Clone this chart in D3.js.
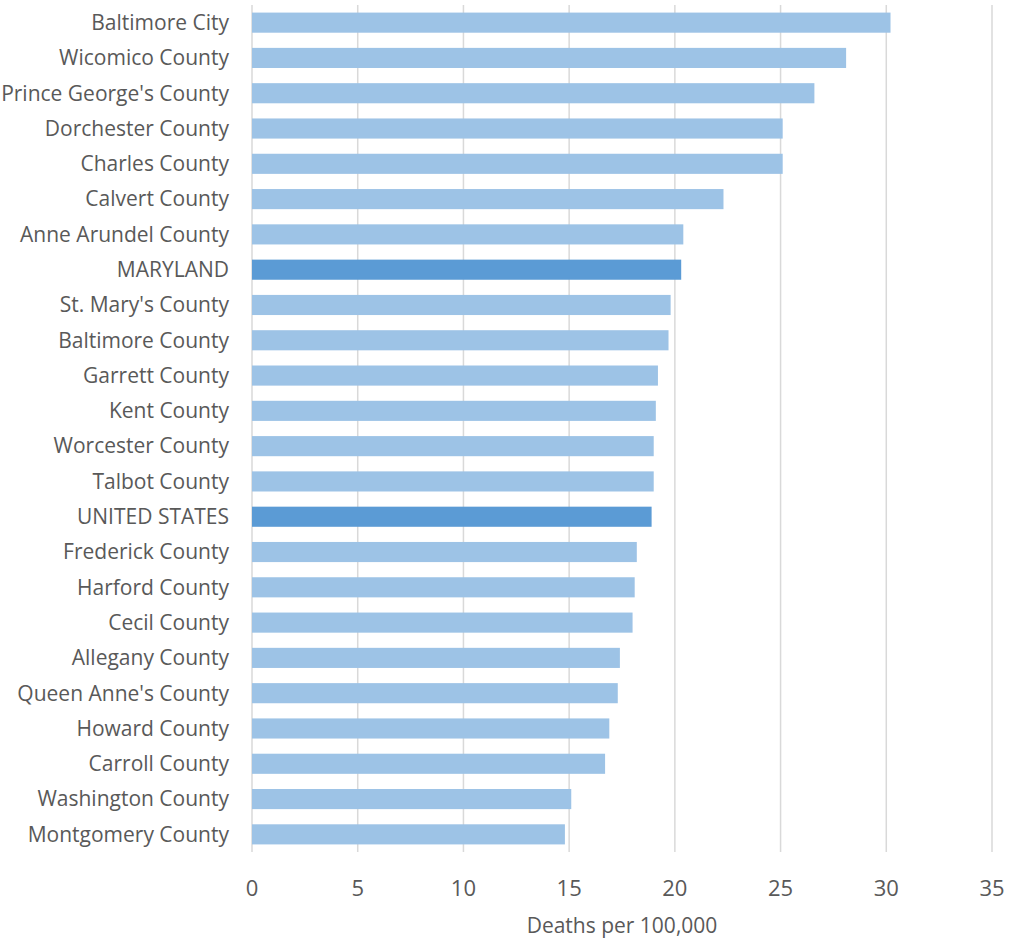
<!DOCTYPE html>
<meta charset="utf-8">
<script src="https://d3js.org/d3.v7.min.js"></script>
<style>
  body { margin: 0; background: #fff; }
  text { font-family: "Open Sans", "Noto Sans", sans-serif; fill: #595959; }
</style>
<div id="my_dataviz"></div>
<script>

// data
var counties = [
  "Baltimore City", "Wicomico County", "Prince George's County", "Dorchester County",
  "Charles County", "Calvert County", "Anne Arundel County", "MARYLAND",
  "St. Mary's County", "Baltimore County", "Garrett County", "Kent County",
  "Worcester County", "Talbot County", "UNITED STATES", "Frederick County",
  "Harford County", "Cecil County", "Allegany County", "Queen Anne's County",
  "Howard County", "Carroll County", "Washington County", "Montgomery County"
];
var rates = [
  30.2, 28.1, 26.6, 25.1,
  25.1, 22.3, 20.4, 20.3,
  19.8, 19.7, 19.2, 19.1,
  19.0, 19.0, 18.9, 18.2,
  18.1, 18.0, 17.4, 17.3,
  16.9, 16.7, 15.1, 14.8
];
var highlight = ["MARYLAND", "UNITED STATES"];
var xTicks = [0, 5, 10, 15, 20, 25, 30, 35];

var data = counties.map(function(c, i) { return {group: c, value: rates[i]}; });

// set the dimensions and margins of the graph
var margin = {top: 5, right: 27, bottom: 92, left: 252},
    width = 1019 - margin.left - margin.right,
    height = 944 - margin.top - margin.bottom;

var svg = d3.select("#my_dataviz")
  .append("svg")
    .attr("width", 1019)
    .attr("height", 944)
  .append("g")
    .attr("transform", "translate(" + margin.left + "," + margin.top + ")");

var x = d3.scaleLinear()
  .domain([0, 35])
  .range([0, 740]);

var y = d3.scaleBand()
  .domain(counties)
  .range([0, height])
  .paddingInner(0.43)
  .paddingOuter(0.215);

// vertical gridlines
svg.selectAll(".grid")
  .data(xTicks)
  .enter()
  .append("line")
    .attr("x1", function(d) { return x(d); })
    .attr("x2", function(d) { return x(d); })
    .attr("y1", 0)
    .attr("y2", height)
    .attr("stroke", "#d9d9d9")
    .attr("stroke-width", 1.5);

// bars
svg.selectAll("rect")
  .data(data)
  .enter()
  .append("rect")
    .attr("x", x(0))
    .attr("y", function(d) { return y(d.group); })
    .attr("width", function(d) { return x(d.value) - x(0); })
    .attr("height", y.bandwidth())
    .attr("fill", function(d) { return highlight.indexOf(d.group) >= 0 ? "#5b9bd5" : "#9dc3e6"; });

// category labels
svg.selectAll(".lab")
  .data(counties)
  .enter()
  .append("text")
    .attr("x", -23)
    .attr("y", function(d) { return y(d) + y.bandwidth() / 2; })
    .attr("dy", "0.35em")
    .attr("text-anchor", "end")
    .style("font-size", "21px")
    .text(function(d) { return d; });

// x tick labels
svg.selectAll(".tick-lab")
  .data(xTicks)
  .enter()
  .append("text")
    .attr("x", function(d) { return x(d); })
    .attr("y", height + 44)
    .attr("text-anchor", "middle")
    .style("font-size", "22px")
    .text(function(d) { return d; });

// axis title
svg.append("text")
  .attr("x", x(17.5))
  .attr("y", height + 81)
  .attr("text-anchor", "middle")
  .style("font-size", "21px")
  .text("Deaths per 100,000");

</script>
